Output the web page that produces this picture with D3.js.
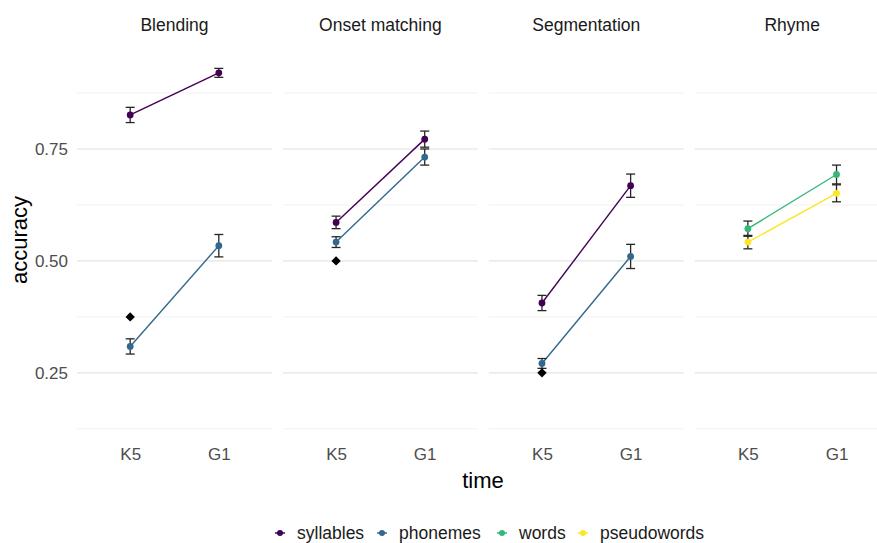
<!DOCTYPE html>
<html>
<head>
<meta charset="utf-8">
<script src="https://cdn.jsdelivr.net/npm/d3@7"></script>
<style>
  body { margin: 0; background: #fff; }
  svg { display: block; font-family: "Liberation Sans", Arial, sans-serif; }
</style>
</head>
<body>
<div id="chart"></div>
<script>
// facets, x categories, groups
const tasks = ["Blending", "Onset matching", "Segmentation", "Rhyme"];
const times = ["K5", "G1"];
const groups = ["syllables", "phonemes", "words", "pseudowords"];
const groupColors = ["#440154", "#31688E", "#35B779", "#FDE725"];

// one row per line: task, group, mean and error at K5 / G1
const lineTask = ["Blending", "Blending", "Onset matching", "Onset matching", "Segmentation", "Segmentation", "Rhyme", "Rhyme"];
const lineGroup = ["syllables", "phonemes", "syllables", "phonemes", "syllables", "phonemes", "words", "pseudowords"];
const meanK5 = [0.826, 0.309, 0.586, 0.542, 0.406, 0.271, 0.572, 0.542];
const meanG1 = [0.920, 0.534, 0.772, 0.732, 0.668, 0.510, 0.693, 0.651];
const errK5 = [0.017, 0.017, 0.014, 0.012, 0.017, 0.011, 0.017, 0.015];
const errG1 = [0.010, 0.025, 0.018, 0.018, 0.026, 0.027, 0.021, 0.019];

// black diamonds at K5
const benchTask = ["Blending", "Onset matching", "Segmentation"];
const benchK5 = [0.375, 0.50, 0.25];

const yMajor = [0.25, 0.50, 0.75];
const yMinor = [0.125, 0.375, 0.625, 0.875];

const W = 877, H = 543;
const panelLeft = 77, panelW = 195, panelGap = 10.9;
const panelTop = 46, panelBottom = 440;

const svg = d3.select("#chart").append("svg")
  .attr("width", W).attr("height", H);

const color = d3.scaleOrdinal().domain(groups).range(groupColors);

const y = d3.scaleLinear().domain([0.10, 0.98]).range([panelBottom, panelTop]);

const fx = d3.scaleBand().domain(tasks)
  .range([panelLeft, panelLeft + 4 * panelW + 3 * panelGap])
  .paddingInner(panelGap / (panelW + panelGap));

// discrete x with 0.6 expansion on each side
const x = d3.scalePoint().domain(times).range([0, panelW]).padding(0.6);

const rows = lineTask.map((t, i) => ({
  task: t, group: lineGroup[i],
  pts: [
    { time: "K5", m: meanK5[i], e: errK5[i] },
    { time: "G1", m: meanG1[i], e: errG1[i] }
  ]
}));

// y axis labels
svg.append("g")
  .attr("transform", `translate(${panelLeft},0)`)
  .call(d3.axisLeft(y).tickValues(yMajor).tickFormat(d3.format(".2f")).tickSize(0).tickPadding(9))
  .call(g => g.select(".domain").remove())
  .call(g => g.selectAll("text").attr("fill", "#4D4D4D").style("font-size", "17px")
    .style("font-family", "'Liberation Sans', Arial, sans-serif"));

tasks.forEach(task => {
  const g = svg.append("g").attr("transform", `translate(${fx(task)},0)`);

  // grid
  g.selectAll(".minor").data(yMinor).join("line")
    .attr("x1", 0).attr("x2", panelW)
    .attr("y1", d => y(d)).attr("y2", d => y(d))
    .attr("stroke", "#F2F2F2").attr("stroke-width", 1);
  g.selectAll(".major").data(yMajor).join("line")
    .attr("x1", 0).attr("x2", panelW)
    .attr("y1", d => y(d)).attr("y2", d => y(d))
    .attr("stroke", "#EBEBEB").attr("stroke-width", 1.6);

  // strip title
  g.append("text")
    .attr("x", panelW / 2).attr("y", 31)
    .attr("text-anchor", "middle")
    .attr("fill", "#1A1A1A").style("font-size", "17.5px")
    .text(task);

  // x axis labels
  g.append("g")
    .attr("transform", `translate(0,${panelBottom})`)
    .call(d3.axisBottom(x).tickSize(0).tickPadding(8))
    .call(a => a.select(".domain").remove())
    .call(a => a.selectAll("text").attr("fill", "#4D4D4D").style("font-size", "17px")
      .style("font-family", "'Liberation Sans', Arial, sans-serif"));

  const sub = rows.filter(r => r.task === task);

  const line = d3.line().x(d => x(d.time)).y(d => y(d.m));
  g.selectAll(".ln").data(sub).join("path")
    .attr("fill", "none")
    .attr("stroke", d => color(d.group))
    .attr("stroke-width", 1.4)
    .attr("d", d => line(d.pts));

  // error bars
  const bars = sub.flatMap(r => r.pts);
  const eb = g.selectAll(".eb").data(bars).join("g").attr("stroke", "#262626").attr("stroke-width", 1.3);
  eb.append("line")
    .attr("x1", d => x(d.time)).attr("x2", d => x(d.time))
    .attr("y1", d => y(d.m - d.e)).attr("y2", d => y(d.m + d.e));
  eb.append("line")
    .attr("x1", d => x(d.time) - 4.5).attr("x2", d => x(d.time) + 4.5)
    .attr("y1", d => y(d.m - d.e)).attr("y2", d => y(d.m - d.e));
  eb.append("line")
    .attr("x1", d => x(d.time) - 4.5).attr("x2", d => x(d.time) + 4.5)
    .attr("y1", d => y(d.m + d.e)).attr("y2", d => y(d.m + d.e));

  // points
  const pts = sub.flatMap(r => r.pts.map(p => ({ ...p, group: r.group })));
  g.selectAll(".pt").data(pts).join("circle")
    .attr("cx", d => x(d.time)).attr("cy", d => y(d.m))
    .attr("r", 3.4)
    .attr("fill", d => color(d.group));

  // diamonds
  const bi = benchTask.indexOf(task);
  if (bi >= 0) {
    g.append("path")
      .attr("d", d3.symbol(d3.symbolDiamond2, 56)())
      .attr("transform", `translate(${x("K5")},${y(benchK5[bi])})`)
      .attr("fill", "#000");
  }
});

// axis titles
svg.append("text")
  .attr("x", 483).attr("y", 488)
  .attr("text-anchor", "middle")
  .style("font-size", "22px").attr("fill", "#000")
  .text("time");

svg.append("text")
  .attr("transform", `translate(27,${(panelTop + panelBottom) / 2 - 3}) rotate(-90)`)
  .attr("text-anchor", "middle")
  .style("font-size", "22px").attr("fill", "#000")
  .text("accuracy");

// legend
const legendX = [280, 382, 502, 583];
const leg = svg.append("g").attr("transform", "translate(0,533)");
groups.forEach((gname, i) => {
  const item = leg.append("g").attr("transform", `translate(${legendX[i]},0)`);
  item.append("line").attr("x1", -5).attr("x2", 5).attr("y1", 0).attr("y2", 0)
    .attr("stroke", color(gname)).attr("stroke-width", 1.5);
  item.append("circle").attr("r", 3).attr("fill", color(gname));
  item.append("text").attr("x", 17).attr("dy", "0.35em")
    .style("font-size", "17.5px").attr("fill", "#1A1A1A")
    .text(gname);
});
</script>
</body>
</html>
